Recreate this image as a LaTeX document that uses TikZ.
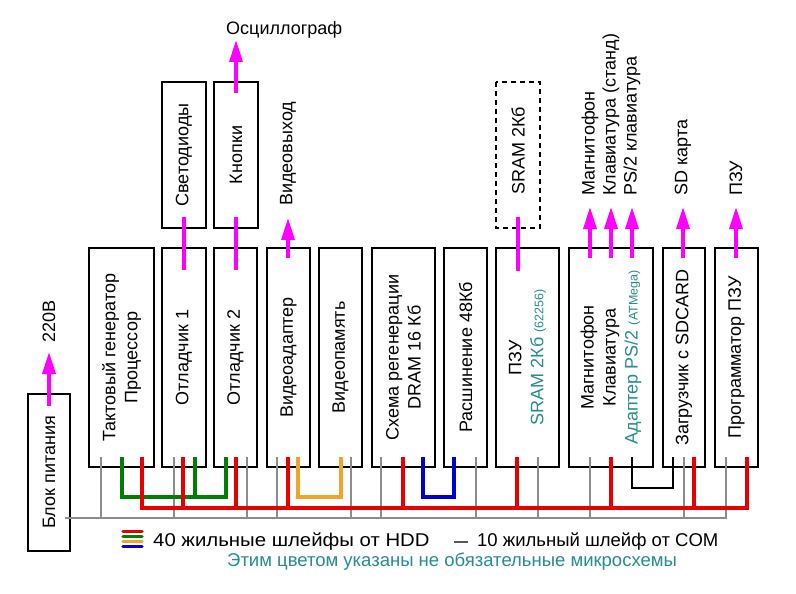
\documentclass[tikz,border=0pt]{standalone}
\usepackage{fontspec}
\setmainfont{Liberation Sans}
\usetikzlibrary{arrows.meta}
\definecolor{mag}{RGB}{255,0,255}
\definecolor{wred}{RGB}{232,0,0}
\definecolor{wgreen}{RGB}{0,128,0}
\definecolor{worange}{RGB}{240,165,40}
\definecolor{wblue}{RGB}{0,0,210}
\definecolor{wgray}{RGB}{140,140,140}
\definecolor{optc}{RGB}{38,140,140}
\newcommand{\smallf}{\fontsize{12.5pt}{13pt}\selectfont}
\begin{document}
\begin{tikzpicture}[x=1pt,y=-1pt,
  every node/.style={font=\fontsize{18pt}{22pt}\selectfont, inner sep=0pt},
  legtext/.style={anchor=west, font=\fontsize{18.5pt}{22pt}\selectfont},
  blk/.style={draw, line width=2pt, fill=white, rotate=90, align=center, minimum height=#1},
  mainbox/.style={blk=#1, minimum width=219pt},
  topbox/.style={blk=#1, minimum width=146pt},
  vlabel/.style={rotate=90, anchor=west},
  sig/.style={draw=mag, line width=3.5pt, -{Triangle[length=22pt,width=13pt]}},
  sigline/.style={draw=mag, line width=3.5pt},
  graywire/.style={draw=wgray, line width=2pt},
  redwire/.style={draw=wred, line width=3.5pt},
  greenwire/.style={draw=wgreen, line width=3.5pt},
  orangewire/.style={draw=worange, line width=3.5pt},
  bluewire/.style={draw=wblue, line width=3.5pt},
  blackwire/.style={draw=black, line width=1.5pt},
]
\useasboundingbox[fill=white] (0,0) rectangle (796,594);

% power block
\node[blk=42pt, minimum width=157pt] (b0) at (49,472.5) {Блок питания};
% main boxes
\node[mainbox=65pt] (b1) at (121.5,357.5) {Тактовый генератор\\Процессор};
\node[mainbox=44pt] (b2) at (184,357.5) {Отладчик 1};
\node[mainbox=43pt] (b3) at (235.5,357.5) {Отладчик 2};
\node[mainbox=43pt] (b4) at (288.5,357.5) {Видеоадаптер};
\node[mainbox=43pt] (b5) at (340.5,357.5) {Видеопамять};
\node[mainbox=63pt] (b6) at (403.5,357.5) {Схема регенерации\\DRAM 16 Кб};
\node[mainbox=43pt] (b7) at (465.5,357.5) {Расшинение 48Кб};
\node[mainbox=63pt] (b8) at (527.5,357.5) {ПЗУ\\{\color{optc}SRAM 2Кб {\smallf(62256)}}};
\node[mainbox=84pt] (b9) at (611,357.5) {Магнитофон\\Клавиатура\\{\color{optc}Адаптер PS/2 {\smallf(ATMega)}}};
\node[mainbox=42pt] (b10) at (684,357.5) {Загрузчик с SDCARD};
\node[mainbox=43pt] (b11) at (736.5,357.5) {Программатор ПЗУ};
% top boxes
\node[topbox=44pt] (t1) at (184,155) {Светодиоды};
\node[topbox=44pt] (t2) at (236,155) {Кнопки};
\node[topbox=44pt, dashed, dash pattern=on 5pt off 4pt] (t3) at (518,155) {};
\node[rotate=90] (t3txt) at (518,151) {SRAM 2Кб};

% signal lines
\draw[sigline] (184,270) -- (184,217);
\draw[sigline] (236,270) -- (236,217);
\draw[sigline] (518,271) -- (518,217);
\draw[sig] (236,93) -- (236,40);
\draw[sig] (288,258) -- (288,218);
\draw[sig] (590,258) -- (590,207);
\draw[sig] (611,258) -- (611,207);
\draw[sig] (632,258) -- (632,207);
\draw[sig] (683,258) -- (683,207);
\draw[sig] (736,258) -- (736,207);
\draw[sig] (49,406) -- (49,352);

% signal labels
\node[anchor=west] (osc) at (226,30) {Осциллограф};
\node[vlabel] (vout) at (288,206) {Видеовыход};
\node[vlabel] (lmag) at (590,196) {Магнитофон};
\node[vlabel] (lkbd) at (611,196) {Клавиатура (станд)};
\node[vlabel] (lps2) at (632,196) {PS/2 клавиатура};
\node[vlabel] (lsd) at (683,196) {SD карта};
\node[vlabel] (lrom) at (736,196) {ПЗУ};
\node[vlabel] (l220) at (49,343) {220В};

% gray 10-wire bus
\draw[graywire] (65,518) -- (727,518);
\foreach \x in {101,174,247,277,351,381,476,538,590,684,726}
  \draw[graywire] (\x,457) -- (\x,518);

% colored 40-wire buses
\draw[greenwire] (122,457) -- (122,497) -- (226,497) -- (226,457);
\draw[greenwire] (195,457) -- (195,497);
\draw[orangewire] (298,457) -- (298,497) -- (341,497) -- (341,457);
\draw[bluewire] (423,457) -- (423,497) -- (454,497) -- (454,457);
\draw[redwire] (142,457) -- (142,508) -- (747,508) -- (747,457);
\foreach \x in {183,236,288,403,517,611,694}
  \draw[redwire] (\x,457) -- (\x,508);
\draw[blackwire] (632,457) -- (632,488) -- (673,488) -- (673,457);

% legend
\draw[draw=wred, line width=3.5pt, line cap=round] (123,531.5) -- (142,531.5);
\draw[draw=wgreen, line width=3.5pt, line cap=round] (123,536.5) -- (142,536.5);
\draw[draw=worange, line width=3.5pt, line cap=round] (123,541.5) -- (142,541.5);
\draw[draw=wblue, line width=3.5pt, line cap=round] (123,546.5) -- (142,546.5);
\node[legtext, xscale=1.1] (leg1) at (153,542) {40 жильные шлейфы от HDD};
\draw[draw=black!65, line width=1.5pt] (454,542) -- (468,542);
\node[legtext] (leg2) at (477,542) {10 жильный шлейф от COM};
\node[legtext, text=optc] (leg3) at (227,562) {Этим цветом указаны не обязательные микросхемы};
\end{tikzpicture}
\end{document}
